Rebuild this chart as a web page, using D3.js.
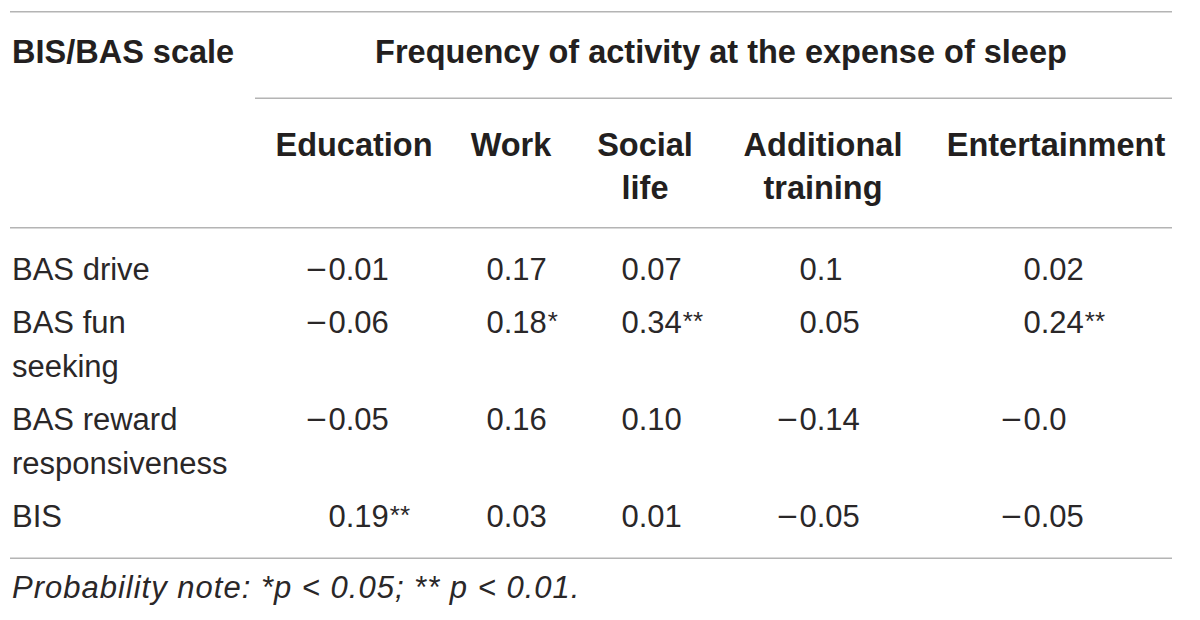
<!DOCTYPE html>
<html>
<head>
<meta charset="utf-8">
<script src="https://cdn.jsdelivr.net/npm/d3@7/dist/d3.min.js"></script>
<style>
  html, body { margin: 0; padding: 0; background: #fff; }
  svg text { fill: #231f20; font-family: "Liberation Sans", Arial, sans-serif; }
  .head { font-weight: bold; font-size: 32.5px; }
  .body { font-size: 31px; fill: #2a2728; }
  .sig { font-size: 26px; }
  .note { font-size: 31px; font-style: italic; letter-spacing: 1px; fill: #2a2728; }
  .rule { stroke: #b4b4b4; stroke-width: 1.6; }
</style>
</head>
<body>
<svg id="chart" width="1200" height="620"></svg>
<script>
/* -------------------------------------------------------------------------- */
// table content
const stubTitle = 'BIS/BAS scale';
const spanTitle = 'Frequency of activity at the expense of sleep';
const columns = ['Education', 'Work', 'Social life', 'Additional training', 'Entertainment'];
const columnLines = [['Education'], ['Work'], ['Social', 'life'], ['Additional', 'training'], ['Entertainment']];
const scales = ['BAS drive', 'BAS fun seeking', 'BAS reward responsiveness', 'BIS'];
const scaleLines = [['BAS drive'], ['BAS fun', 'seeking'], ['BAS reward', 'responsiveness'], ['BIS']];

// correlations per column, in row order (as printed)
const education     = ['\u22120.01', '\u22120.06', '\u22120.05', '0.19'];
const work          = ['0.17', '0.18', '0.16', '0.03'];
const socialLife    = ['0.07', '0.34', '0.10', '0.01'];
const additional    = ['0.1', '0.05', '\u22120.14', '\u22120.05'];
const entertainment = ['0.02', '0.24', '\u22120.0', '\u22120.05'];

// significance marks per column
const educationSig     = ['', '', '', '**'];
const workSig          = ['', '*', '', ''];
const socialLifeSig    = ['', '**', '', ''];
const additionalSig    = ['', '', '', ''];
const entertainmentSig = ['', '**', '', ''];

const note = 'Probability note: *p < 0.05; ** p < 0.01.';

/* -------------------------------------------------------------------------- */
// layout
const svg = d3.select('#chart');
const left = 12, right = 1172, spanLeft = 255;
const lineGap = 44;      // line spacing inside a cell
const rowGap = 53;       // baseline step between rows

const colCenter = d3.scaleOrdinal().domain(columns).range([354, 511, 645, 823, 1056]);
const colDecimal = d3.scaleOrdinal().domain(columns).range([328.5, 486.5, 621.5, 799.5, 1023.5]);

const valueCols = [education, work, socialLife, additional, entertainment];
const sigCols = [educationSig, workSig, socialLifeSig, additionalSig, entertainmentSig];

// row baselines, cumulative from the first row
let rowY = [];
let y = 280;
scaleLines.forEach(function(lines) {
  rowY.push(y);
  y += rowGap + lineGap * (lines.length - 1);
});
const rowScale = d3.scaleOrdinal().domain(scales).range(rowY);

/* -------------------------------------------------------------------------- */
// rules
const rules = [
  {x1: left - 2, x2: right, y: 11.7},
  {x1: spanLeft, x2: right, y: 98.3},
  {x1: left - 2, x2: right, y: 227.7},
  {x1: left - 2, x2: right, y: 558.3}
];
svg.selectAll('line.rule')
  .data(rules)
  .enter().append('line')
  .attr('class', 'rule')
  .attr('x1', d => d.x1).attr('x2', d => d.x2)
  .attr('y1', d => d.y).attr('y2', d => d.y);

// header
svg.append('text').attr('class', 'head')
  .attr('x', left).attr('y', 63)
  .text(stubTitle);

svg.append('text').attr('class', 'head')
  .attr('x', 721).attr('y', 63)
  .attr('text-anchor', 'middle')
  .text(spanTitle);

let hg = svg.selectAll('text.colhead')
  .data(columns)
  .enter().append('text')
  .attr('class', 'head colhead')
  .attr('text-anchor', 'middle');

hg.selectAll('tspan')
  .data((d, i) => columnLines[i].map(t => ({col: d, t: t})))
  .enter().append('tspan')
  .attr('x', d => colCenter(d.col))
  .attr('y', (d, i) => 155.7 + i * 43)
  .text(d => d.t);

// stub labels
let sg = svg.selectAll('text.stub')
  .data(scales)
  .enter().append('text')
  .attr('class', 'body stub');

sg.selectAll('tspan')
  .data((d, i) => scaleLines[i].map(t => ({row: d, t: t})))
  .enter().append('tspan')
  .attr('x', left)
  .attr('y', (d, i) => rowScale(d.row) + i * lineGap)
  .text(d => d.t);

// values, aligned on the leading zero
let cells = [];
columns.forEach(function(c, ci) {
  scales.forEach(function(r, ri) {
    let v = valueCols[ci][ri];
    cells.push({col: c, row: r, neg: v.startsWith('\u2212'), num: v.replace('\u2212', ''), sig: sigCols[ci][ri]});
  });
});

let nums = svg.selectAll('text.num')
  .data(cells)
  .enter().append('text')
  .attr('class', 'body num')
  .attr('x', d => colDecimal(d.col))
  .attr('y', d => rowScale(d.row));

nums.append('tspan').text(d => d.num);
nums.filter(d => d.sig != '')
  .append('tspan')
  .attr('class', 'sig')
  .attr('dy', -3)
  .attr('dx', 1)
  .text(d => d.sig);

// minus sign sits left of the zero, a bit stretched like the original
svg.selectAll('text.minus')
  .data(cells.filter(d => d.neg))
  .enter().append('text')
  .attr('class', 'body minus')
  .attr('text-anchor', 'end')
  .attr('x', d => colDecimal(d.col) - 2)
  .attr('y', d => rowScale(d.row))
  .attr('transform', d => 'translate(' + (colDecimal(d.col) - 2) + ',0) scale(1.15,1) translate(' + -(colDecimal(d.col) - 2) + ',0)')
  .text('\u2212');

// footnote
svg.append('text').attr('class', 'note')
  .attr('x', left).attr('y', 598)
  .text(note);
</script>
</body>
</html>
